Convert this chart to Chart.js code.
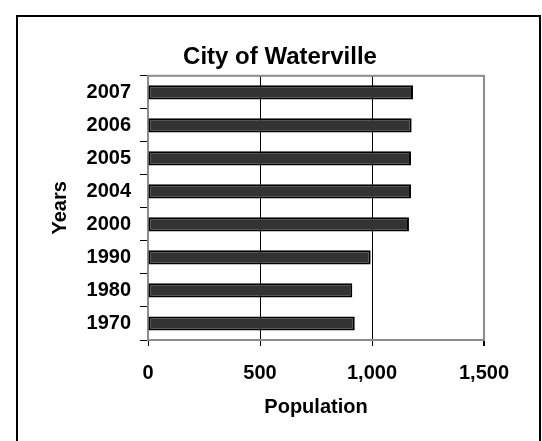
<!DOCTYPE html>
<html>
<head>
<meta charset="utf-8">
<script src="https://cdn.jsdelivr.net/npm/chart.js@4/dist/chart.umd.min.js"></script>
<style>
  html, body { margin: 0; padding: 0; background: #fff; }
  #wrap { position: relative; width: 542px; height: 441px; overflow: hidden; }
  #frame { position: absolute; left: 16px; top: 15px; width: 525px; height: 440px;
           border: 2px solid #000; box-sizing: border-box; }
  canvas { position: absolute; left: 0; top: 0; }
</style>
</head>
<body>
<div id="wrap">
  <div id="frame"></div>
  <canvas id="chart" width="542" height="441"></canvas>
</div>
<script>
// population of Waterville by year
const years = ['1970', '1980', '1990', '2000', '2004', '2005', '2006', '2007'];
const population = [923, 912, 994, 1165, 1174, 1174, 1177, 1183];
const xTicks = [0, 500, 1000, 1500];

const font = 'Liberation Sans, Arial, sans-serif';

// grey box around the plot area, axes are drawn over it in black
const plotBorder = {
  id: 'plotBorder',
  beforeDatasetsDraw(chart) {
    const a = chart.chartArea;
    const ctx = chart.ctx;
    ctx.save();
    ctx.strokeStyle = '#8c8c8c';
    ctx.lineWidth = 2;
    ctx.strokeRect(a.left, a.top, a.right - a.left, a.bottom - a.top);
    ctx.restore();
  }
};

const ctx = document.getElementById('chart');
new Chart(ctx, {
  type: 'bar',
  data: {
    labels: years,
    datasets: [{
      data: population,
      backgroundColor: '#333333',
      borderColor: '#000000',
      borderWidth: 2,
      borderSkipped: false,
      barPercentage: 0.43,
      categoryPercentage: 1
    }]
  },
  options: {
    indexAxis: 'y',
    responsive: false,
    animation: false,
    layout: { padding: { top: 20, left: 44, right: 26, bottom: 0 } },
    plugins: {
      legend: { display: false },
      tooltip: { enabled: false },
      title: {
        display: true,
        text: 'City of Waterville',
        color: '#000',
        font: { family: font, size: 24, weight: 'bold' },
        padding: { top: 23, bottom: 4 }
      }
    },
    scales: {
      x: {
        min: 0,
        max: 1500,
        afterBuildTicks(scale) {
          scale.ticks = xTicks.map(v => ({ value: v }));
        },
        afterFit(scale) { scale.height = 101; },
        border: { display: true, color: '#000', width: 2 },
        grid: {
          color: c => (c.tick && c.tick.value === 1500) ? '#8c8c8c' : '#000',
          lineWidth: c => (c.tick && c.tick.value === 1500) ? 2 : 1,
          tickColor: '#000',
          tickLength: 6,
          drawOnChartArea: true
        },
        ticks: {
          color: '#000',
          padding: 15,
          font: { family: font, size: 20, weight: 'bold' },
          callback: v => v.toLocaleString('en-US')
        },
        title: {
          display: true,
          text: 'Population',
          color: '#000',
          font: { family: font, size: 20, weight: 'bold' },
          padding: { top: 22, bottom: 22 }
        }
      },
      y: {
        reverse: true,
        afterFit(scale) { scale.width = 104; },
        border: { display: true, color: '#000', width: 2 },
        grid: {
          offset: true,
          drawOnChartArea: false,
          tickColor: '#000',
          tickLength: 8
        },
        ticks: {
          color: '#000',
          padding: 9,
          font: { family: font, size: 20, weight: 'bold' }
        },
        title: {
          display: true,
          text: 'Years',
          color: '#000',
          font: { family: font, size: 20, weight: 'bold' },
          padding: { top: 4, bottom: 4 }
        }
      },
      // empty strip on the right so the title centres inside the frame
      spacer: {
        type: 'linear',
        position: 'right',
        display: true,
        afterFit(scale) { scale.width = 32; },
        ticks: { display: false },
        grid: { display: false },
        border: { display: false }
      }
    }
  },
  plugins: [plotBorder]
});
</script>
</body>
</html>
